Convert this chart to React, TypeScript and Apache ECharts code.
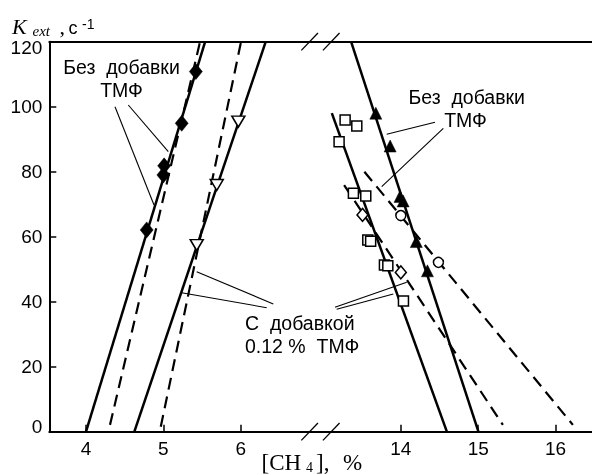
import React, { useEffect, useRef } from "react";
import * as echarts from "echarts";

// ---- axis break: values above the break are shifted left by OFFSET ----
const OFFSET = 5.931;
const BREAK_AT = 7.03;
const X_TICKS = [4, 5, 6, 14, 15, 16];
const Y_MIN = 0;
const Y_MAX = 120;
const Y_STEP = 20;

// ---- left group (lean limit) ----
const leftNoAddPts = [[4.784, 62.1], [5.0, 79.0], [5.01, 81.8], [5.237, 94.9], [5.42, 110.8]];
const leftNoAddSolid = [[4.0, 0], [5.54, 120]];
const leftNoAddDashed = [[4.31, 2.1], [5.474, 120]];
const leftAddPts = [[5.431, 57.4], [5.69, 75.9], [5.969, 95.4]];
const leftAddSolid = [[4.625, 0], [6.323, 120]];
const leftAddDashed = [[4.966, 1.5], [6.004, 120]];

// ---- right group (rich limit) ----
const rightNoAddPts = [[13.677, 98], [13.862, 87.9], [13.99, 72.4], [14.03, 71.0], [14.2, 58.5], [14.344, 49.5]];
const rightNoAddSolid = [[13.357, 120], [15.003, 0]];
const rightAddSquares = [[13.28, 95.9], [13.431, 94.1], [13.202, 89.2], [13.387, 73.4], [13.547, 72.5], [13.573, 59], [13.61, 58.6], [13.788, 51.3], [13.832, 51.1], [14.034, 40.2]];
const rightAddSolid = [[13.108, 98], [14.595, 0]];
const rightAddDiamonds = [[13.505, 66.7], [14.0, 49]];
const rightAddDashed = [[13.267, 75.9], [15.319, 2.1]];
const rightCircles = [[14.0, 66.5], [14.486, 52.1]];
const rightCirclesDashed = [[13.529, 80], [16.224, 2.1]];

const SANS = "'Liberation Sans', Arial, Helvetica, sans-serif";
const SERIF = "'Liberation Serif', 'Times New Roman', serif";

const tx = (x: number) => (x > 10 ? x - OFFSET : x);
const map = (pts: number[][]) => pts.map(([x, y]) => [tx(x), y]);

const lineSeries = (pts: number[][], dashed: boolean) => ({
  type: "line",
  data: map(pts),
  symbol: "none",
  silent: true,
  z: 2,
  lineStyle: { color: "#000", opacity: 1, width: dashed ? 2.2 : 2.5, type: dashed ? [12, 7] : "solid", cap: "butt" },
});

const scatter = (pts: number[][], symbol: string, size: any, filled: boolean, rotate = 0) => ({
  type: "scatter",
  data: map(pts),
  symbol,
  symbolSize: size,
  symbolRotate: rotate,
  silent: true,
  z: 5,
  itemStyle: filled
    ? { color: "#000", borderColor: "#000", borderWidth: 0.5, opacity: 1 }
    : { color: "#fff", borderColor: "#000", borderWidth: 1.5, opacity: 1 },
});

const txt = (text: string, x: number, y: number, font: string, size: number, align = "left", italic = false) => ({
  type: "text",
  x,
  y,
  silent: true,
  style: {
    text,
    fill: "#000",
    font: `${italic ? "italic " : ""}${size}px ${font}`,
    align,
    verticalAlign: "middle",
  },
});

const leader = (x1: number, y1: number, x2: number, y2: number) => ({
  type: "line",
  silent: true,
  shape: { x1, y1, x2, y2 },
  style: { stroke: "#000", lineWidth: 1.1 },
});

export default function App() {
  const ref = useRef<HTMLDivElement>(null);
  useEffect(() => {
    const chart = echarts.init(ref.current!, null, { renderer: "svg" });
    const xMin = 3.5255;
    const xMax = 10.54;
    const labelFont = { fontFamily: SANS, fontSize: 19, color: "#000" };
    chart.setOption({
      animation: false,
      grid: { left: 49.3, right: 0, top: 41.7, bottom: 43.3 },
      xAxis: [
        {
          type: "value",
          min: xMin,
          max: xMax,
          axisLine: { show: true, lineStyle: { color: "#000", width: 2 } },
          axisTick: { show: true, inside: true, length: 7, customValues: X_TICKS.map(tx), lineStyle: { color: "#000", width: 1.5 } },
          axisLabel: {
            customValues: X_TICKS.map(tx),
            formatter: (v: number) => String(Math.round(v > BREAK_AT ? v + OFFSET : v)),
            ...labelFont,
            margin: 7,
          },
          splitLine: { show: false },
        },
        {
          type: "value",
          position: "top",
          min: xMin,
          max: xMax,
          axisLine: { show: true, lineStyle: { color: "#000", width: 2 } },
          axisTick: { show: false },
          axisLabel: { show: false },
          splitLine: { show: false },
        },
      ],
      yAxis: {
        type: "value",
        min: Y_MIN,
        max: Y_MAX,
        interval: Y_STEP,
        axisLine: { show: true, lineStyle: { color: "#000", width: 2 } },
        axisTick: { show: true, inside: true, length: 7, lineStyle: { color: "#000", width: 1.5 } },
        axisLabel: {
          ...labelFont,
          margin: 7,
          formatter: (v: number) =>
            v === Y_MAX ? `{top|${v}}` : v === Y_MIN ? `{bot|${v}}` : `${v}`,
          rich: {
            top: { ...labelFont, padding: [11, 0, 0, 0] },
            bot: { ...labelFont, padding: [0, 0, 10, 0] },
          },
        },
        splitLine: { show: false },
      },
      series: [
        lineSeries(leftNoAddSolid, false),
        lineSeries(leftNoAddDashed, true),
        lineSeries(leftAddSolid, false),
        lineSeries(leftAddDashed, true),
        lineSeries(rightNoAddSolid, false),
        lineSeries(rightAddSolid, false),
        lineSeries(rightAddDashed, true),
        lineSeries(rightCirclesDashed, true),
        scatter(leftNoAddPts, "diamond", [13, 16], true),
        scatter(leftAddPts, "triangle", [13, 11], false, 180),
        scatter(rightNoAddPts, "triangle", [12, 12], true),
        scatter(rightAddSquares, "rect", 10, false),
        scatter(rightAddDiamonds, "diamond", [11, 13], false),
        scatter(rightCircles, "circle", 10, false),
      ],
    });

    const [bx, yb] = chart.convertToPixel({ xAxisIndex: 0, yAxisIndex: 0 } as any, [BREAK_AT, Y_MIN]) as number[];
    const [, yt] = chart.convertToPixel({ xAxisIndex: 0, yAxisIndex: 0 } as any, [BREAK_AT, Y_MAX]) as number[];
    const slash = (cx: number, cy: number) => ({
      type: "line",
      silent: true,
      shape: { x1: cx - 8.3, y1: cy + 8.7, x2: cx + 8.3, y2: cy - 8.7 },
      style: { stroke: "#000", lineWidth: 1.3 },
    });

    chart.setOption({
      graphic: [
        slash(bx - 10.8, yb),
        slash(bx + 10.8, yb),
        slash(bx - 10.8, yt),
        slash(bx + 10.8, yt),
        // y axis title
        txt("K", 12, 26.5, SERIF, 22, "left", true),
        txt("ext", 32.5, 30.8, SERIF, 15, "left", true),
        txt(",", 59.5, 26.5, SERIF, 22),
        txt("с", 68.5, 27.5, SANS, 18),
        txt("-1", 82, 23.5, SANS, 14),
        // x axis title
        txt("[CH", 261.5, 462.3, SERIF, 23),
        txt("4", 306, 467.3, SERIF, 14),
        txt("],", 316, 462.3, SERIF, 23),
        txt("%", 343, 462.3, SERIF, 23),
        // annotations
        txt("Без  добавки", 121.5, 66.5, SANS, 19.5, "center"),
        txt("ТМФ", 121.5, 90, SANS, 19.5, "center"),
        txt("Без  добавки", 466.7, 96.5, SANS, 19.5, "center"),
        txt("ТМФ", 465.5, 120, SANS, 19.5, "center"),
        txt("С  добавкой", 245, 322.5, SANS, 19.5),
        txt("0.12 %  ТМФ", 245, 346, SANS, 19.5),
        leader(128.3, 105, 168.3, 151.7),
        leader(115, 106.7, 154, 205),
        leader(435, 122.3, 386.7, 134.3),
        leader(443.3, 128.3, 381.7, 186.7),
        leader(273.3, 304, 196.7, 271.7),
        leader(266.7, 307.7, 181.7, 292.7),
        leader(335, 307.3, 406.7, 282.3),
        leader(336.7, 309.3, 393.3, 294),
      ],
    });
    return () => chart.dispose();
  }, []);
  return <div ref={ref} style={{ position: "fixed", left: 0, top: 0, width: 592, height: 475 }} />;
}
